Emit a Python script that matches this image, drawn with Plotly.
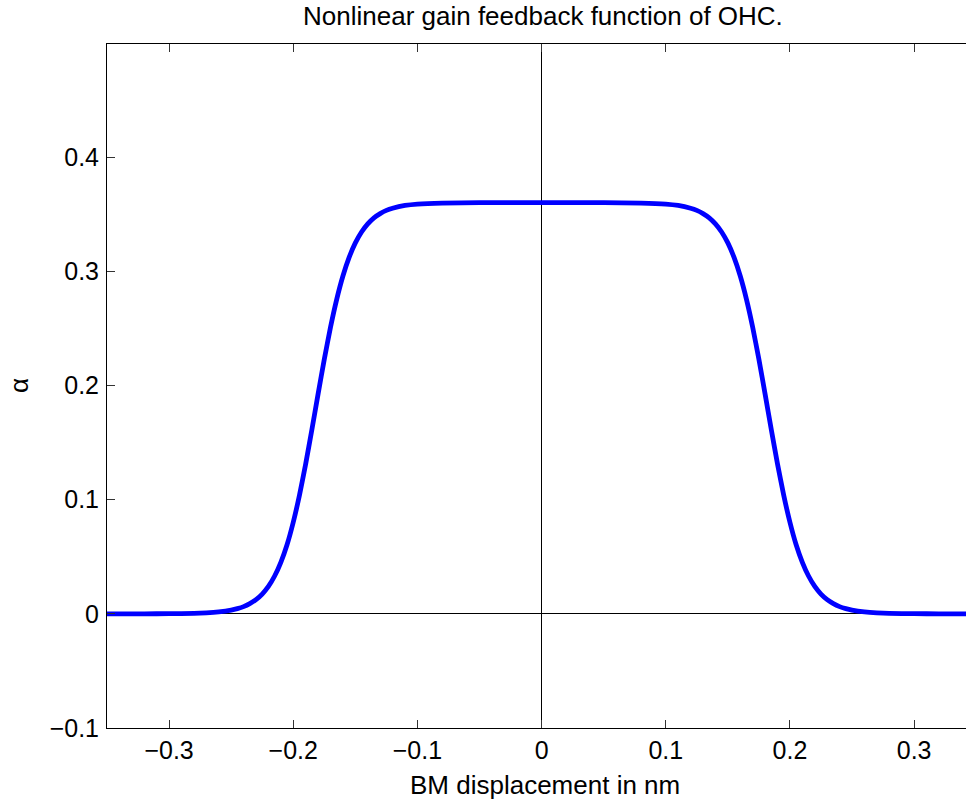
import plotly.graph_objects as go

# BM displacement (nm) and the corresponding OHC feedback gain alpha
displacement_nm = [
    -0.350, -0.320, -0.300, -0.280, -0.270, -0.260, -0.250, -0.245, -0.240,
    -0.235, -0.230, -0.225, -0.220, -0.215, -0.210, -0.205, -0.200, -0.195,
    -0.190, -0.185, -0.180, -0.175, -0.170, -0.165, -0.160, -0.155, -0.150,
    -0.145, -0.140, -0.135, -0.130, -0.125, -0.120, -0.110, -0.100, -0.080,
    -0.050, 0.000, 0.050, 0.080, 0.100, 0.110, 0.120, 0.125, 0.130, 0.135,
    0.140, 0.145, 0.150, 0.155, 0.160, 0.165, 0.170, 0.175, 0.180, 0.185,
    0.190, 0.195, 0.200, 0.205, 0.210, 0.215, 0.220, 0.225, 0.230, 0.235,
    0.240, 0.245, 0.250, 0.260, 0.270, 0.280, 0.300, 0.320, 0.350,
]
alpha = [
    0.0000, 0.0000, 0.0001, 0.0004, 0.0008, 0.0016, 0.0032, 0.0045, 0.0063,
    0.0089, 0.0124, 0.0173, 0.0240, 0.0331, 0.0451, 0.0605, 0.0802, 0.1038,
    0.1312, 0.1613, 0.1925, 0.2229, 0.2509, 0.2754, 0.2958, 0.3121, 0.3248,
    0.3344, 0.3415, 0.3468, 0.3505, 0.3533, 0.3552, 0.3576, 0.3588, 0.3597,
    0.3600, 0.3600, 0.3600, 0.3597, 0.3588, 0.3576, 0.3552, 0.3533, 0.3505,
    0.3468, 0.3415, 0.3344, 0.3248, 0.3121, 0.2958, 0.2754, 0.2509, 0.2229,
    0.1925, 0.1613, 0.1312, 0.1038, 0.0802, 0.0605, 0.0451, 0.0331, 0.0240,
    0.0173, 0.0124, 0.0089, 0.0063, 0.0045, 0.0032, 0.0016, 0.0008, 0.0004,
    0.0001, 0.0000, 0.0000,
]

x_ticks = [-0.3, -0.2, -0.1, 0.0, 0.1, 0.2, 0.3]
x_tick_text = ["\u22120.3", "\u22120.2", "\u22120.1", "0", "0.1", "0.2", "0.3"]
y_ticks = [-0.1, 0.0, 0.1, 0.2, 0.3, 0.4]
y_tick_text = ["\u22120.1", "0", "0.1", "0.2", "0.3", "0.4"]

FONT = "Liberation Sans, Arial, Helvetica, sans-serif"

fig = go.Figure()
fig.add_trace(go.Scatter(
    x=displacement_nm, y=alpha, mode="lines",
    line=dict(color="#0000ff", width=4.8, shape="spline", smoothing=0.5),
    hoverinfo="skip", showlegend=False,
))

axis_common = dict(
    showline=True, linecolor="black", linewidth=1,
    ticks="inside", ticklen=8, tickcolor="#333333", tickwidth=1,
    showgrid=False, zeroline=True, zerolinecolor="black", zerolinewidth=1,
    tickfont=dict(family=FONT, size=25, color="black"),
)

fig.update_layout(
    width=966, height=803,
    margin=dict(l=107, r=0, t=44, b=75),
    paper_bgcolor="white", plot_bgcolor="white",
    xaxis=dict(range=[-0.35, 0.3418], tickvals=x_ticks, ticktext=x_tick_text,
               mirror="ticks", ticklabelstandoff=0, **axis_common),
    yaxis=dict(range=[-0.1, 0.499], tickvals=y_ticks, ticktext=y_tick_text,
               mirror=False, ticklabelstandoff=2, **axis_common),
    annotations=[
        dict(text="Nonlinear gain feedback function of OHC.",
             xref="paper", yref="paper", x=(543 - 107) / 859, y=1 + 28 / 684,
             xanchor="center", yanchor="middle", showarrow=False,
             font=dict(family=FONT, size=26, color="black")),
        dict(text="BM displacement in nm",
             xref="paper", yref="paper", x=(545 - 107) / 859, y=-(57 / 684),
             xanchor="center", yanchor="middle", showarrow=False,
             font=dict(family=FONT, size=26, color="black")),
        dict(text="\u03b1", textangle=-90,
             xref="paper", yref="paper", x=-(88 / 859), y=(728 - 386) / 684,
             xanchor="center", yanchor="middle", showarrow=False,
             font=dict(family=FONT, size=26, color="black")),
    ],
)

fig.write_html("out.html")
